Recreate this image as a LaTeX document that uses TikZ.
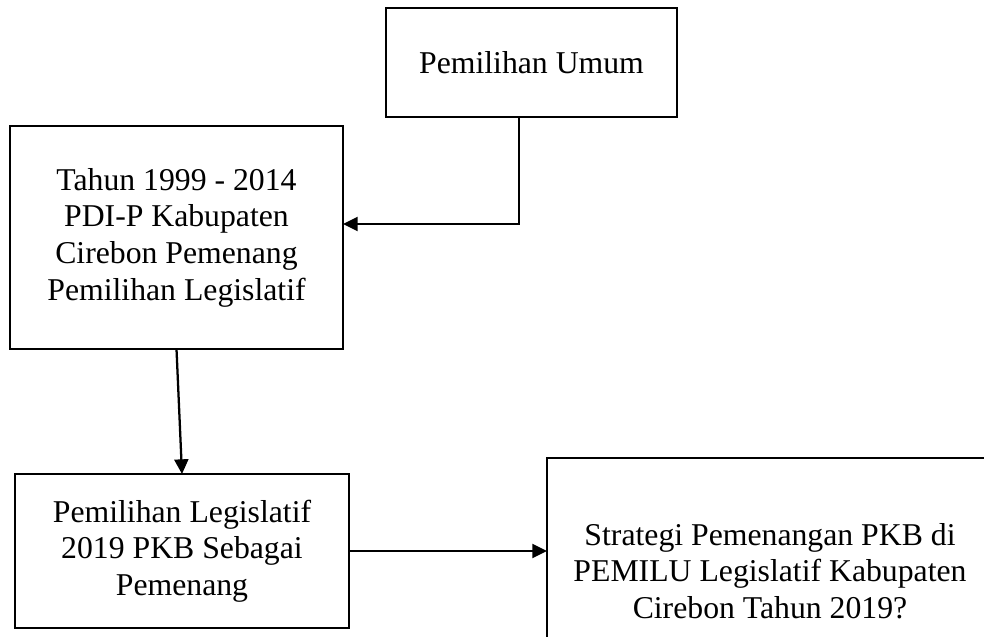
\documentclass[tikz,border=0pt]{standalone}
\usepackage{fontspec}
\setmainfont{Liberation Serif}
\usetikzlibrary{arrows.meta}
\tikzset{
	box/.style={draw, line width=0.9pt, inner sep=0pt, outer sep=0pt, align=center, font=\fontsize{23.8}{27.5}\selectfont},
	arr/.style={-{Stealth[length=11pt,width=10.5pt,inset=0pt]}, line width=1.7pt},
}
\begin{document}
\begin{tikzpicture}[x=0.75pt,y=0.75pt]
		\useasboundingbox (0,0) rectangle (984,636);
		\clip (0,0) rectangle (984,636);
		\node[box, minimum width=218.25pt, minimum height=81.75pt] (pemilu) at (531.5,573.5) {Pemilihan Umum};
		\node[box, minimum width=249.75pt, minimum height=167.25pt] (pdip) at (176.5,398.5) {Tahun 1999 - 2014\\PDI-P Kabupaten\\Cirebon Pemenang\\Pemilihan Legislatif};
		\coordinate (turn) at (519,412);
		\draw[arr] (pemilu.south -| turn) -- (turn) -- (pdip.east |- turn);
		% 2019
		\node[box, minimum width=250.5pt, minimum height=115.5pt] (pkb) at (182,85) {Pemilihan Legislatif\\2019 PKB Sebagai\\Pemenang};
		\draw[arr] (pdip.south) -- (pkb.north);
		\node[box, minimum width=334.5pt, minimum height=169.5pt] (strategi) at (770,65) {Strategi Pemenangan PKB di\\PEMILU Legislatif Kabupaten\\Cirebon Tahun 2019?};
		\draw[arr] (pkb.east) -- (strategi.west |- pkb.east);
\end{tikzpicture}
\end{document}
